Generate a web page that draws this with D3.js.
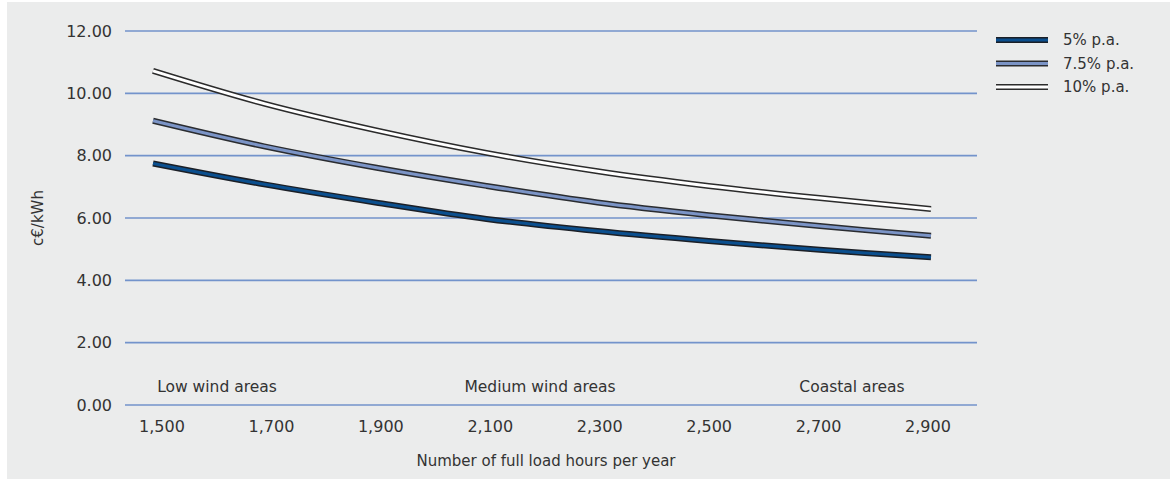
<!DOCTYPE html>
<html>
<head>
<meta charset="utf-8">
<script src="https://cdn.jsdelivr.net/npm/d3@7/dist/d3.min.js"></script>
<style>
  html, body { margin: 0; padding: 0; background: #ffffff; }
  svg { display: block; }
  text { font-family: "DejaVu Sans", sans-serif; fill: #333333; }
</style>
</head>
<body>
<svg id="chart" width="1170" height="479"></svg>
<script>
// Full load hours per year (x) and generation cost in c€/kWh by interest rate
const hours = [1500, 1700, 1900, 2100, 2300, 2500, 2700, 2900];
const hourLabels = ["1,500", "1,700", "1,900", "2,100", "2,300", "2,500", "2,700", "2,900"];
const cost5 = [7.75, 7.08, 6.50, 5.97, 5.58, 5.26, 4.98, 4.74];
const cost75 = [9.12, 8.30, 7.62, 7.03, 6.50, 6.09, 5.74, 5.43];
const cost10 = [10.72, 9.67, 8.82, 8.09, 7.50, 7.03, 6.64, 6.29];
const seriesNames = ["5% p.a.", "7.5% p.a.", "10% p.a."];
const yTicks = [0, 2, 4, 6, 8, 10, 12];
const areaLabels = ["Low wind areas", "Medium wind areas", "Coastal areas"];

const series = [
  { name: seriesNames[0], values: cost5, inner: "#0b4f8e", outer: "#1b1f26" },
  { name: seriesNames[1], values: cost75, inner: "#7b94c6", outer: "#2a2c30" },
  { name: seriesNames[2], values: cost10, inner: "#ffffff", outer: "#2b2b2b" }
];

const svg = d3.select("#chart");

// panel background
svg.append("rect")
  .attr("x", 7).attr("y", 2)
  .attr("width", 1163).attr("height", 477)
  .attr("fill", "#ebecec");

const plot = { left: 125, right: 977, top: 31, bottom: 405 };

const y = d3.scaleLinear().domain([0, 12]).range([plot.bottom, plot.top]);
const x = d3.scaleLinear().domain([1500, 2900]).range([153, 931]);
const xLab = d3.scalePoint().domain(hourLabels).range([162, 928]);

// horizontal gridlines
svg.append("g").selectAll("line")
  .data(yTicks).join("line")
  .attr("x1", plot.left).attr("x2", plot.right)
  .attr("y1", d => y(d)).attr("y2", d => y(d))
  .attr("stroke", "#7393cb").attr("stroke-width", 1.6);

// y tick labels
svg.append("g").selectAll("text")
  .data(yTicks).join("text")
  .attr("x", 112).attr("y", d => y(d))
  .attr("text-anchor", "end")
  .attr("dominant-baseline", "central")
  .attr("font-size", 16)
  .text(d => d3.format(".2f")(d));

// x tick labels
svg.append("g").selectAll("text")
  .data(hourLabels).join("text")
  .attr("x", d => xLab(d)).attr("y", 426)
  .attr("text-anchor", "middle")
  .attr("dominant-baseline", "central")
  .attr("font-size", 16)
  .text(d => d);

// area captions above the axis
const areaX = [217, 540, 852];
svg.append("g").selectAll("text")
  .data(areaLabels).join("text")
  .attr("x", (d, i) => areaX[i]).attr("y", 387)
  .attr("text-anchor", "middle")
  .attr("dominant-baseline", "central")
  .attr("font-size", 15.5)
  .text(d => d);

// axis titles
svg.append("text")
  .attr("transform", "translate(38," + ((plot.top + plot.bottom) / 2) + ") rotate(-90)")
  .attr("text-anchor", "middle")
  .attr("dominant-baseline", "central")
  .attr("font-size", 15)
  .text("c€/kWh");

svg.append("text")
  .attr("x", 546).attr("y", 461)
  .attr("text-anchor", "middle")
  .attr("dominant-baseline", "central")
  .attr("font-size", 15)
  .text("Number of full load hours per year");

// cost curves: dark casing with a coloured core
const line = d3.line()
  .x((d, i) => x(hours[i]))
  .y(d => y(d))
  .curve(d3.curveCatmullRom.alpha(0.5));

const curves = svg.append("g");
series.forEach(s => {
  curves.append("path")
    .attr("d", line(s.values))
    .attr("fill", "none")
    .attr("stroke", s.outer)
    .attr("stroke-width", 6);
  curves.append("path")
    .attr("d", line(s.values))
    .attr("fill", "none")
    .attr("stroke", s.inner)
    .attr("stroke-width", 3);
});

// legend
const legend = svg.append("g");
const legendY = [40, 63.5, 87];
series.forEach((s, i) => {
  legend.append("line")
    .attr("x1", 996).attr("x2", 1048)
    .attr("y1", legendY[i]).attr("y2", legendY[i])
    .attr("stroke", s.outer).attr("stroke-width", 6);
  legend.append("line")
    .attr("x1", 996).attr("x2", 1048)
    .attr("y1", legendY[i]).attr("y2", legendY[i])
    .attr("stroke", s.inner).attr("stroke-width", 2.8);
  legend.append("text")
    .attr("x", 1063).attr("y", legendY[i])
    .attr("dominant-baseline", "central")
    .attr("font-size", 15)
    .text(s.name);
});
</script>
</body>
</html>
